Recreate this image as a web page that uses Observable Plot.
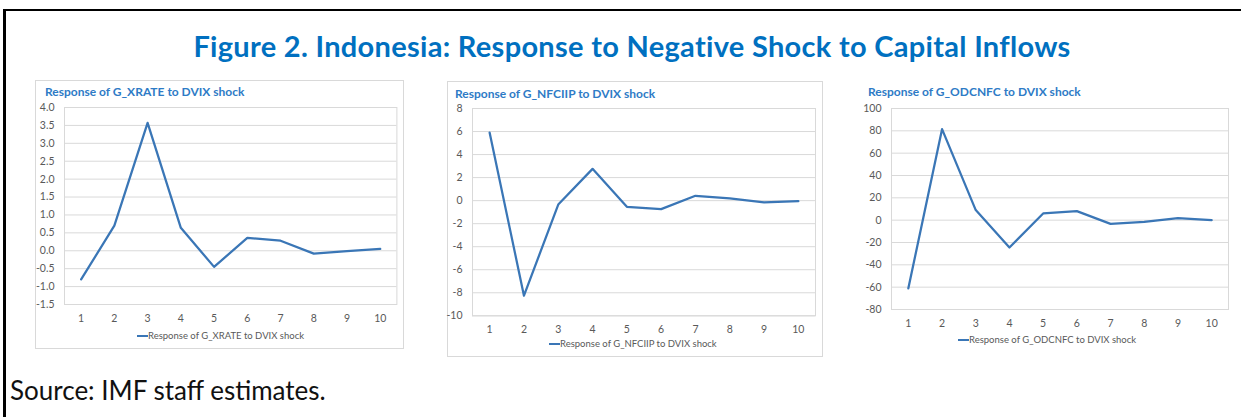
<!DOCTYPE html>
<html>
<head>
<meta charset="utf-8">
<script src="https://cdn.jsdelivr.net/npm/d3@7"></script>
<script src="https://cdn.jsdelivr.net/npm/@observablehq/plot@0.6"></script>
<style>
  html, body { margin: 0; padding: 0; background: #fff; }
  #root { position: relative; width: 1241px; height: 417px; overflow: hidden; background: #fff; font-family: Lato, "DejaVu Sans", sans-serif; }
  .frame { position: absolute; left: 3px; top: 9px; width: 1300px; height: 500px; border-top: 2px solid #000; border-left: 3px solid #000; }
  .title { position: absolute; left: 0; width: 1264px; top: 28px; text-align: center; font-weight: 700; font-size: 29px; letter-spacing: 0.3px; line-height: 36px; color: #0070C0; white-space: nowrap; }
  .source { position: absolute; left: 10px; top: 374px; font-size: 26px; line-height: 32px; color: #111; white-space: nowrap; }
  .box { position: absolute; border: 1px solid #D9D9D9; }
  .ptitle { position: absolute; font-weight: 700; font-size: 12px; color: #2E7BC6; white-space: nowrap; line-height: 14px; }
  .legend { position: absolute; font-size: 9.5px; color: #595959; white-space: nowrap; line-height: 12px; display: flex; align-items: center; }
  .legend .sw { display: inline-block; width: 11px; height: 2.5px; background: #3A76B6; margin-right: 0px; }
  .chart { position: absolute; }
</style>
</head>
<body>
<div id="root">
  <div class="frame"></div>
  <div class="title" id="mainTitle"></div>
  <div class="source" id="source"></div>
</div>
<script>
// ---- data ----
const periods = [1, 2, 3, 4, 5, 6, 7, 8, 9, 10];
const xrate   = [-0.80, 0.70, 3.57, 0.64, -0.45, 0.36, 0.28, -0.08, -0.01, 0.05];
const nfciip  = [5.9, -8.25, -0.34, 2.76, -0.54, -0.74, 0.42, 0.19, -0.16, -0.05];
const odcnfc  = [-61, 81.5, 9, -24.5, 6.0, 8.1, -3.3, -1.5, 1.8, 0];
const xrateTicks  = [-1.5, -1.0, -0.5, 0.0, 0.5, 1.0, 1.5, 2.0, 2.5, 3.0, 3.5, 4.0];
const nfciipTicks = [-10, -8, -6, -4, -2, 0, 2, 4, 6, 8];
const odcnfcTicks = [-80, -60, -40, -20, 0, 20, 40, 60, 80, 100];
const mainTitle = "Figure 2. Indonesia: Response to Negative Shock to Capital Inflows";
const sourceText = "Source: IMF staff estimates.";
const panelTitles = [
  "Response of G_XRATE to DVIX shock",
  "Response of G_NFCIIP to DVIX shock",
  "Response of G_ODCNFC to DVIX shock"
];

document.getElementById("mainTitle").textContent = mainTitle;
document.getElementById("source").textContent = sourceText;

const root = document.getElementById("root");
const LINE = "#3A76B6";
const GRID = "#D9D9D9";

const panels = [
  { values: xrate, ticks: xrateTicks, fmt: d => d.toFixed(1), title: panelTitles[0],
    box: [35, 80, 367, 267], plot: [64.3, 107.3, 396.7, 304.3], titlePos: [45, 85], legendPos: [137, 330] },
  { values: nfciip, ticks: nfciipTicks, fmt: d => String(d), title: panelTitles[1],
    box: [447, 81, 374, 274], plot: [472, 108, 815, 315.3], titlePos: [455, 87], legendPos: [549, 338] },
  { values: odcnfc, ticks: odcnfcTicks, fmt: d => String(d), title: panelTitles[2],
    box: null, plot: [891, 108.3, 1228, 309.3], titlePos: [868, 85], legendPos: [958, 334] }
];

for (const p of panels) {
  if (p.box) {
    const b = document.createElement("div");
    b.className = "box";
    b.style.left = p.box[0] + "px"; b.style.top = p.box[1] + "px";
    b.style.width = p.box[2] + "px"; b.style.height = p.box[3] + "px";
    root.appendChild(b);
  }
  const t = document.createElement("div");
  t.className = "ptitle";
  t.textContent = p.title;
  t.style.left = p.titlePos[0] + "px"; t.style.top = p.titlePos[1] + "px";
  root.appendChild(t);

  const [x0, y0, x1, y1] = p.plot;
  const svgLeft = x0 - 40, svgTop = y0 - 10;
  const mL = 40, mT = 10, mR = 6, mB = 26;
  const data = periods.map((k, i) => ({ period: k, value: p.values[i] }));
  const chart = Plot.plot({
    width: (x1 - x0) + mL + mR,
    height: (y1 - y0) + mT + mB,
    marginLeft: mL, marginRight: mR, marginTop: mT, marginBottom: mB,
    style: { fontFamily: "Lato, 'DejaVu Sans', sans-serif", fontSize: "10.5px", color: "#595959", background: "transparent", overflow: "visible" },
    x: { type: "linear", domain: [0.5, 10.5], ticks: periods, tickSize: 0, tickPadding: 10, tickFormat: d => String(d), label: null },
    y: { domain: [p.ticks[0], p.ticks[p.ticks.length - 1]], ticks: p.ticks, tickSize: 0, tickPadding: 10, tickFormat: p.fmt, label: null },
    marks: [
      Plot.ruleY(p.ticks, { stroke: GRID, strokeWidth: 1 }),
      Plot.frame({ stroke: GRID }),
      Plot.lineY(data, { x: "period", y: "value", stroke: LINE, strokeWidth: 2.25, strokeLinejoin: "round" })
    ]
  });
  chart.classList.add("chart");
  chart.style.left = svgLeft + "px";
  chart.style.top = svgTop + "px";
  root.appendChild(chart);

  const lg = document.createElement("div");
  lg.className = "legend";
  lg.style.left = p.legendPos[0] + "px"; lg.style.top = p.legendPos[1] + "px";
  const sw = document.createElement("span"); sw.className = "sw";
  const tx = document.createElement("span"); tx.textContent = p.title;
  lg.appendChild(sw); lg.appendChild(tx);
  root.appendChild(lg);
}
</script>
</body>
</html>
